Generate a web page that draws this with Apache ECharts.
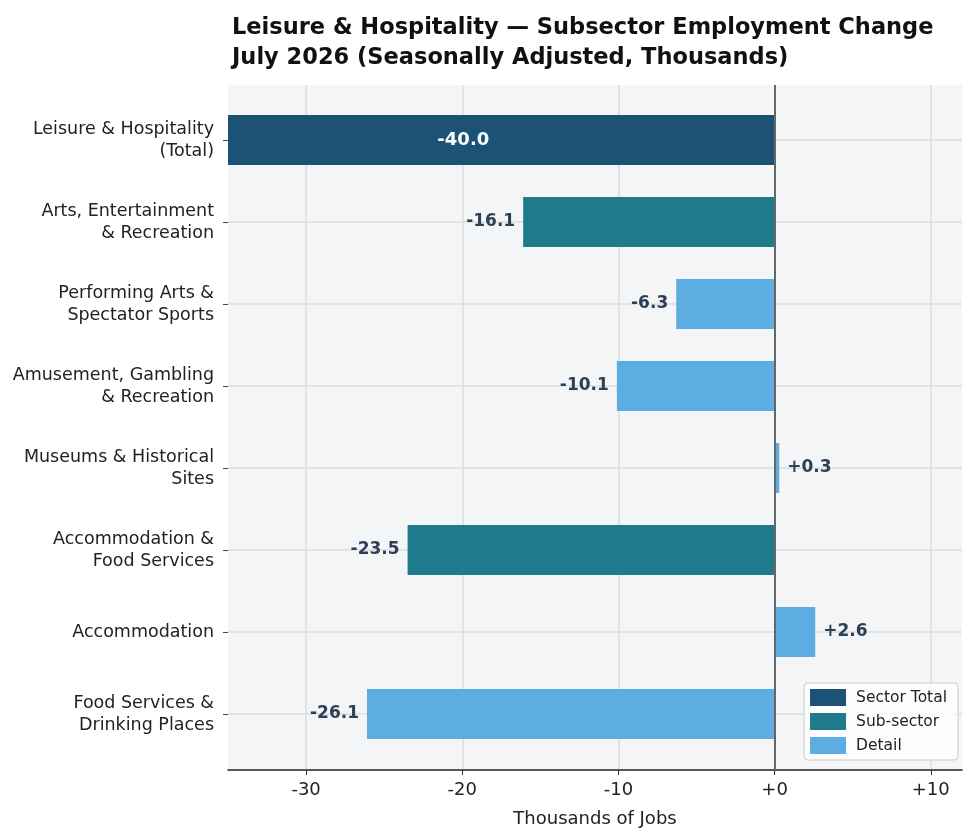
<!DOCTYPE html>
<html>
<head>
<meta charset="utf-8">
<script src="https://cdn.jsdelivr.net/npm/echarts@6/dist/echarts.min.js"></script>
<style>
html,body{margin:0;padding:0;background:#fff;}
#main{width:975px;height:829px;}
</style>
</head>
<body>
<div id="main"></div>
<script>
var categories = ["Leisure & Hospitality\n(Total)", "Arts, Entertainment\n& Recreation", "Performing Arts &\nSpectator Sports",
    "Amusement, Gambling\n& Recreation", "Museums & Historical\nSites", "Accommodation &\nFood Services",
    "Accommodation", "Food Services &\nDrinking Places"];
var values = [-40.0, -16.1, -6.3, -10.1, 0.3, -23.5, 2.6, -26.1];
var levels = ["Sector Total", "Sub-sector", "Detail", "Detail", "Detail", "Sub-sector", "Detail", "Detail"];
var levelNames = ["Sector Total", "Sub-sector", "Detail"];
var xTicks = [-30, -20, -10, 0, 10];
var xMin = -35, xMax = 12;

var levelColors = {"Sector Total": "#1b5276", "Sub-sector": "#1f7a8c", "Detail": "#5dade2"};
var font = "DejaVu Sans";

function fmt(v){ return (v >= 0 ? "+" : "") + v.toFixed(1); }

// one series per level, stacked so each category shows only its own bar
var series = levelNames.map(function(lv){
    return {
        name: lv,
        type: "bar",
        stack: "all",
        xAxisIndex: 1,
        yAxisIndex: 1,
        barWidth: "61%",
        itemStyle: {color: levelColors[lv]},
        data: values.map(function(v, i){
            if (levels[i] !== lv) return "-";
            var lab;
            if (i === 0) {
                // total bar runs off the left edge: label sits at the middle of the full bar
                lab = {show: true, position: "inside", color: "#fff", fontSize: 18, offset: [-38, 0]};
            } else {
                lab = {show: true, position: v < 0 ? "left" : "right", distance: 8, color: "#2b3f55", fontSize: 17};
            }
            lab.fontWeight = "bold";
            lab.fontFamily = font;
            lab.formatter = function(p){ return fmt(p.value); };
            return {value: v, label: lab};
        })
    };
});

var option = {
    animation: false,
    textStyle: {fontFamily: font},
    title: {
        text: "Leisure & Hospitality \u2014 Subsector Employment Change\nJuly 2026 (Seasonally Adjusted, Thousands)",
        left: 227, top: 8,
        textStyle: {fontFamily: font, fontWeight: "bold", fontSize: 22.5, lineHeight: 30, color: "#111"}
    },
    legend: {
        orient: "vertical",
        right: 17, bottom: 69,
        data: levelNames,
        icon: "rect",
        itemWidth: 36, itemHeight: 17, itemGap: 7,
        padding: [6, 11, 6, 6],
        backgroundColor: "rgba(255,255,255,0.8)",
        borderColor: "#ccc", borderWidth: 1, borderRadius: 4,
        textStyle: {fontFamily: font, fontSize: 15.5, color: "#222", padding: [0, 0, 0, 5]}
    },
    grid: [
        {left: 228, right: 13, top: 85, bottom: 59, outerBoundsMode: "none",
            show: true, backgroundColor: "#f4f5f7", borderWidth: 0},
        {left: 228, right: 13, top: 140, bottom: 115, outerBoundsMode: "none"}
    ],
    xAxis: [{
        gridIndex: 0,
        type: "value", min: xMin, max: xMax, interval: 10,
        name: "Thousands of Jobs", nameLocation: "middle", nameGap: 40,
        nameTextStyle: {fontFamily: font, fontSize: 18, color: "#222"},
        axisLine: {show: true, lineStyle: {color: "#222", width: 1.5}},
        axisTick: {show: true, length: 5, customValues: xTicks, lineStyle: {color: "#333"}},
        axisLabel: {customValues: xTicks, fontFamily: font, fontSize: 18, color: "#222", margin: 11,
            formatter: function(v){ return (v >= 0 ? "+" : "") + v; }},
        splitLine: {show: true, lineStyle: {color: "#dcdde0", width: 1.5}}
    }, {
        gridIndex: 1,
        type: "value", min: xMin, max: xMax, show: false
    }],
    yAxis: [{
        gridIndex: 0, type: "value", show: false
    }, {
        gridIndex: 1,
        type: "category", inverse: true, boundaryGap: false,
        data: categories,
        axisLine: {show: false, onZero: false},
        axisTick: {show: true, length: 5, lineStyle: {color: "#444"}},
        axisLabel: {fontFamily: font, fontSize: 17.5, color: "#222", lineHeight: 22, margin: 14, align: "right"},
        splitLine: {show: true, lineStyle: {color: "#dcdde0", width: 1.5}}
    }],
    series: series.concat([{
        // zero reference line
        type: "line", xAxisIndex: 0, yAxisIndex: 0, data: [],
        markLine: {
            silent: true, symbol: "none", label: {show: false},
            lineStyle: {color: "#666", width: 2, type: "solid"},
            data: [{xAxis: 0}]
        }
    }])
};

var chart = echarts.init(document.getElementById("main"));
chart.setOption(option);
</script>
</body>
</html>
